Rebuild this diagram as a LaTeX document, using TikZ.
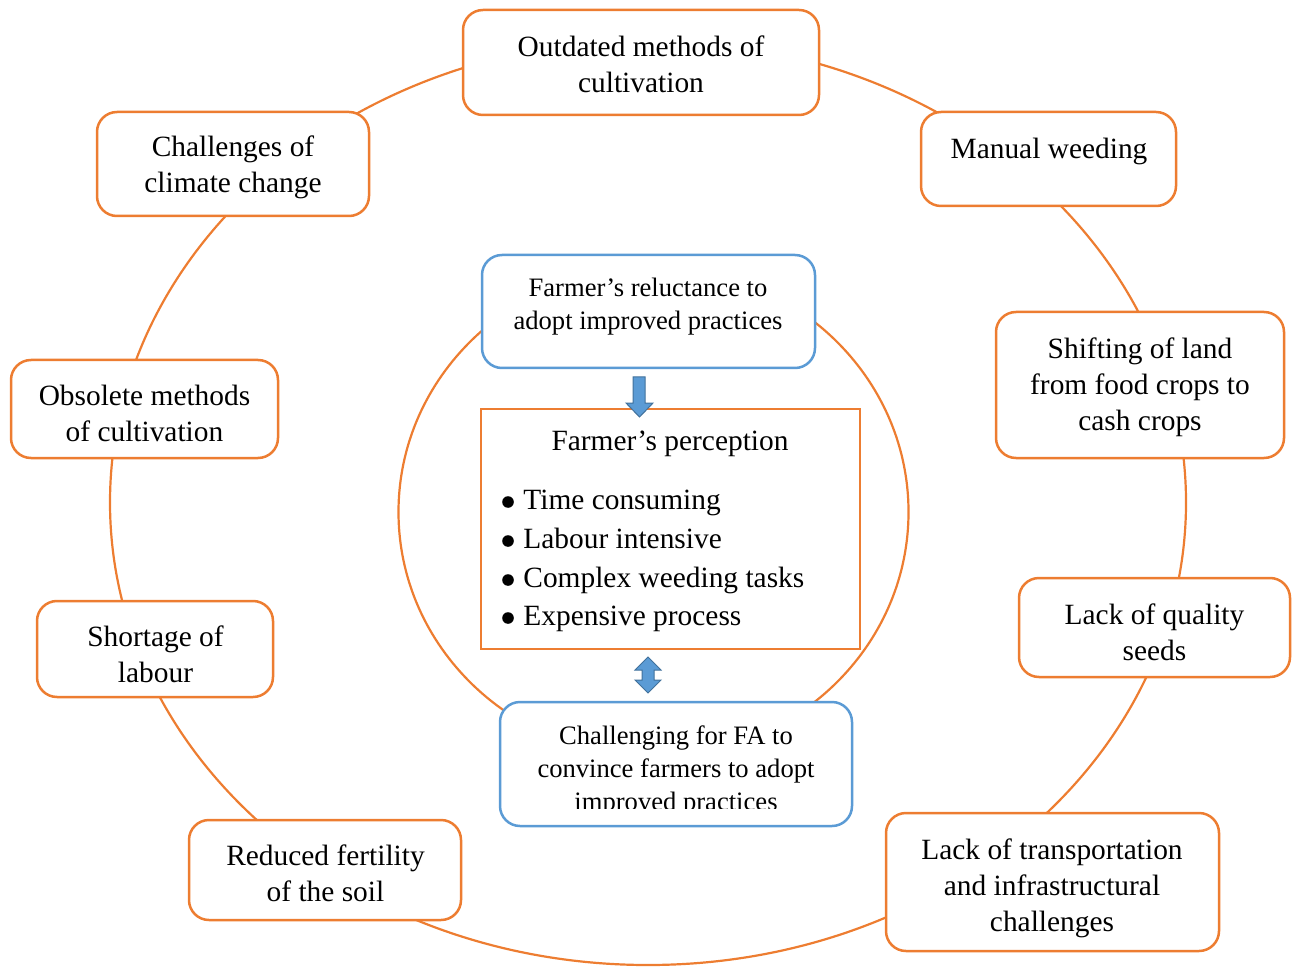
\documentclass[tikz,border=0pt]{standalone}
\usepackage{fontspec}
\setmainfont{Liberation Serif}
\definecolor{ringorange}{HTML}{ED7D31}
\definecolor{boxblue}{HTML}{5B9BD5}
\definecolor{arrowedge}{HTML}{41719C}
\begin{document}
\begin{tikzpicture}[x=0.5pt,y=-0.5pt,
  ring/.style={draw=ringorange, line width=1.1pt},
  obox/.style={draw=ringorange, line width=1.25pt, rounded corners=10pt, fill=white, inner sep=0pt},
  bbox/.style={draw=boxblue, line width=1.25pt, rounded corners=10pt, fill=white, inner sep=0pt},
  pbox/.style={draw=ringorange, line width=1.25pt, fill=white, inner sep=0pt},
  otext/.style={align=center, inner sep=0pt, font=\fontsize{14.7}{18}\selectfont},
  btext/.style={align=center, inner sep=0pt, font=\fontsize{13.3}{16.5}\selectfont},
  ltext/.style={anchor=base west, inner sep=0pt, font=\fontsize{14.7}{18}\selectfont},
  barrow/.style={fill=boxblue, draw=arrowedge, line width=0.5pt, line join=miter}]
\useasboundingbox (0,0) rectangle (1293,967);

% outer and inner rings
\draw[ring] (648,502.5) ellipse [x radius=538, y radius=462.5];
\draw[ring] (653.5,512) ellipse [x radius=255, y radius=245];

% outer challenge boxes
\node[obox, minimum width=178pt, minimum height=52.5pt] (outdated) at (641,62.5) {};
\node[otext] (outdated-t) at (641,64) {Outdated methods of\\cultivation};

\node[obox, minimum width=127.5pt, minimum height=47pt] (manual) at (1048.5,159) {};
\node[otext] (manual-t) at (1049,151) {Manual weeding};

\node[obox, minimum width=144pt, minimum height=73pt] (shifting) at (1140,385) {};
\node[otext] (shifting-t) at (1140,387) {Shifting of land\\from food crops to\\cash crops};

\node[obox, minimum width=135.5pt, minimum height=49.5pt] (seeds) at (1154.5,627.5) {};
\node[otext] (seeds-t) at (1154.5,632) {Lack of quality\\seeds};

\node[obox, minimum width=166.5pt, minimum height=69pt] (transport) at (1052.5,882) {};
\node[otext] (transport-t) at (1052,888) {Lack of transportation\\and infrastructural\\challenges};

\node[obox, minimum width=136pt, minimum height=50pt] (fertility) at (325,870) {};
\node[otext] (fertility-t) at (325.5,873) {Reduced fertility\\of the soil};

\node[obox, minimum width=118pt, minimum height=48pt] (labour) at (155,649) {};
\node[otext] (labour-t) at (155.5,654) {Shortage of\\labour};

\node[obox, minimum width=133.5pt, minimum height=49pt] (obsolete) at (144.5,409) {};
\node[otext] (obsolete-t) at (144.5,413) {Obsolete methods\\of cultivation};

\node[obox, minimum width=136pt, minimum height=52pt] (climate) at (233,164) {};
\node[otext] (climate-t) at (233,167) {Challenges of\\climate change};

% central boxes
\node[bbox, minimum width=166.5pt, minimum height=56.5pt] (reluct) at (648.5,311.5) {};
\node[btext] (reluct-t) at (648,306.5) {Farmer’s reluctance to\\adopt improved practices};

\node[pbox, minimum width=189.5pt, minimum height=120pt] (perception) at (670.5,529) {};
\node[otext, anchor=base] (perception-h) at (670,450) {Farmer’s perception};
\fill (508,502) circle [radius=2.9pt];
\fill (508,541) circle [radius=2.9pt];
\fill (508,580) circle [radius=2.9pt];
\fill (508,618) circle [radius=2.9pt];
\node[ltext] (item1) at (523,509) {Time consuming};
\node[ltext] (item2) at (523,548) {Labour intensive};
\node[ltext] (item3) at (523,587) {Complex weeding tasks};
\node[ltext] (item4) at (523,625) {Expensive process};

\node[bbox, minimum width=176pt, minimum height=62pt] (convince) at (676,764) {};
\begin{scope}
  \clip (500,702) rectangle (852,808);
  \node[btext] (convince-t) at (676,771) {Challenging for FA to\\convince farmers to adopt\\improved practices};
\end{scope}

% block arrows between the central boxes
\draw[barrow] (633,377) -- (645,377) -- (645,403) -- (653,403) -- (639.5,417)
  -- (626,403) -- (633,403) -- cycle;
\draw[barrow] (648,657) -- (661,670) -- (654,670) -- (654,680) -- (661,680)
  -- (648,693) -- (635,680) -- (642,680) -- (642,670) -- (635,670) -- cycle;
\end{tikzpicture}
\end{document}
